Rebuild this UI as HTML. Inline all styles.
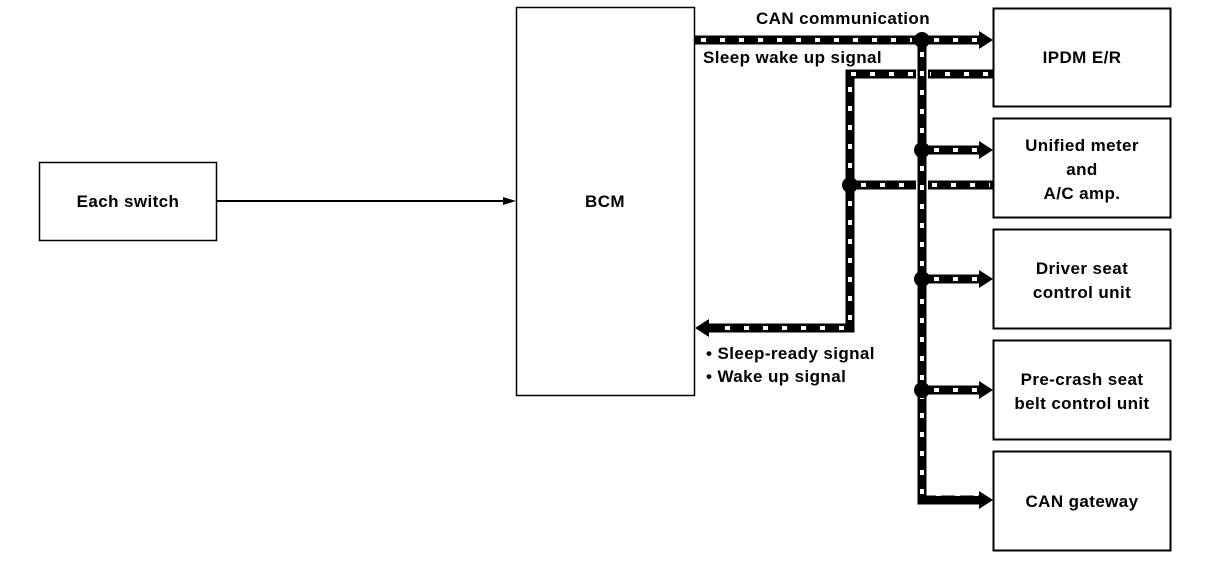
<!DOCTYPE html>
<html><head><style>body{margin:0;background:#fff}svg{display:block}text{font-family:"Liberation Sans",sans-serif;font-size:17px;font-weight:bold;letter-spacing:0.4px;fill:#000}</style></head>
<body>
<svg width="1216" height="582" viewBox="0 0 1216 582">
<g fill="#fff" stroke="#000">
<rect x="39.5" y="162.5" width="177" height="78" stroke-width="1.5"/>
<rect x="516.5" y="7.5" width="178" height="388" stroke-width="1.5"/>
<rect x="993.5" y="8.5" width="177" height="98" stroke-width="2"/>
<rect x="993.5" y="118.5" width="177" height="99" stroke-width="2"/>
<rect x="993.5" y="229.5" width="177" height="99" stroke-width="2"/>
<rect x="993.5" y="340.5" width="177" height="99" stroke-width="2"/>
<rect x="993.5" y="451.5" width="177" height="99" stroke-width="2"/>
</g>
<line x1="217" y1="201" x2="505" y2="201" stroke="#000" stroke-width="2"/>
<path d="M503,197 L516,201 L503,205 z"/>
<g fill="none" stroke="#000" stroke-width="9">
<path d="M695,40 H981"/>
<path d="M922,40 V500 H981"/>
<path d="M922,150 H981 M922,279 H981 M922,390 H981"/>
<path d="M993,74 H928 M916,74 H850 V328 H707"/>
<path d="M850,185 H916 M928,185 H993"/>
</g>
<g fill="none" stroke="#fff" stroke-width="4" stroke-dasharray="5 14">
<path d="M701,40 H912"/>
<path d="M922,52 V494 H978"/>
<path d="M934,40 H978 M934,150 H978 M934,279 H978 M934,390 H978"/>
<path d="M988,74 H930 M913,74 H850 V328 H712"/>
<path d="M861,185 H913 M932,185 H990"/>
</g>
<path d="M979,31 L993,40 L979,49 z M979,141 L993,150 L979,159 z M979,270 L993,279 L979,288 z M979,381 L993,390 L979,399 z M979,491 L993,500 L979,509 z M709,319 L695,328 L709,337 z"/>
<g><circle cx="922" cy="40" r="8"/><circle cx="922" cy="150" r="8"/><circle cx="922" cy="279" r="8"/><circle cx="922" cy="390" r="8"/><circle cx="850" cy="185" r="8"/></g>
<text x="128" y="207" text-anchor="middle">Each switch</text>
<text x="605" y="207" text-anchor="middle">BCM</text>
<text x="843" y="24" text-anchor="middle">CAN communication</text>
<text x="703" y="63">Sleep wake up signal</text>
<text x="706" y="359">• Sleep-ready signal</text>
<text x="706" y="382">• Wake up signal</text>
<text x="1082" y="63" text-anchor="middle">IPDM E/R</text>
<text x="1082" y="151" text-anchor="middle">Unified meter</text>
<text x="1082" y="175" text-anchor="middle">and</text>
<text x="1082" y="199" text-anchor="middle">A/C amp.</text>
<text x="1082" y="274" text-anchor="middle">Driver seat</text>
<text x="1082" y="298" text-anchor="middle">control unit</text>
<text x="1082" y="385" text-anchor="middle">Pre-crash seat</text>
<text x="1082" y="409" text-anchor="middle">belt control unit</text>
<text x="1082" y="507" text-anchor="middle">CAN gateway</text>
</svg>
</body></html>
